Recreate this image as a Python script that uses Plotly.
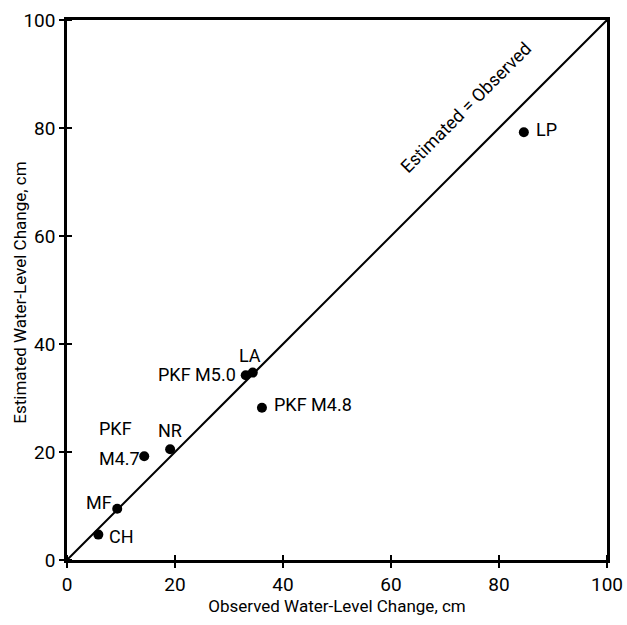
import plotly.graph_objects as go

names = ["CH", "MF", "PKF M4.7", "NR", "PKF M5.0", "LA", "PKF M4.8", "LP"]
observed = [5.8, 9.3, 14.3, 19.1, 33.1, 34.4, 36.1, 84.6]
estimated = [4.7, 9.5, 19.2, 20.5, 34.2, 34.7, 28.2, 79.2]
label_lines = [["CH"], ["MF"], ["PKF", "M4.7"], ["NR"], ["PKF M5.0"], ["LA"], ["PKF M4.8"], ["LP"]]
line_x = [0, 100]
line_y = [0, 100]
ticks = [0, 20, 40, 60, 80, 100]
x_title = "Observed Water-Level Change, cm"
y_title = "Estimated Water-Level Change, cm"

FONT = "Roboto, Liberation Sans, sans-serif"

# label placement (pixel offsets from marker): xanchor, xshift, yshift of first line
label_style = {
    "CH": ("left", 9, -2),
    "MF": ("right", -3, 6),
    "PKF M4.7": ("left", -47, 28),
    "NR": ("center", 0, 19),
    "PKF M5.0": ("right", -8, 1),
    "LA": ("center", -3, 17),
    "PKF M4.8": ("left", 10, 3),
    "LP": ("left", 10, 3),
}
LINE_GAP = 30

fig = go.Figure()
fig.add_trace(go.Scatter(x=line_x, y=line_y, mode="lines",
                         line=dict(color="black", width=2), hoverinfo="skip"))
fig.add_trace(go.Scatter(x=observed, y=estimated, mode="markers",
                         marker=dict(color="black", size=10), text=names))

for name, xv, yv, lines in zip(names, observed, estimated, label_lines):
    xa, xs, ys = label_style[name]
    for i, ln in enumerate(lines):
        fig.add_annotation(x=xv, y=yv, text=ln, showarrow=False,
                           xanchor=xa, yanchor="middle", xshift=xs, yshift=ys - i * LINE_GAP,
                           font=dict(family=FONT, size=18, color="black"))

fig.add_annotation(x=73.8, y=83.8, text="Estimated = Observed", textangle=-45,
                   showarrow=False, font=dict(family=FONT, size=18, color="black"))

# y-axis title placed as a rotated annotation so it sits where the reference has it
fig.add_annotation(xref="paper", yref="paper", x=-0.087, y=0.495, text=y_title,
                   textangle=-90, showarrow=False, xanchor="center", yanchor="middle",
                   font=dict(family=FONT, size=17, color="black"))

axis_common = dict(range=[0, 100], tickvals=ticks, ticks="outside", ticklen=5,
                   tickwidth=2, tickcolor="black", showline=True, linecolor="black",
                   linewidth=2.5, mirror=True, showgrid=False, zeroline=False,
                   automargin=False,
                   tickfont=dict(family=FONT, size=19, color="black"),
                   minor=dict(ticks="inside", tickvals=ticks, ticklen=5, tickwidth=2, tickcolor="black"))

fig.update_layout(
    width=627, height=625,
    margin=dict(l=67, r=20, t=20, b=65),
    plot_bgcolor="white", paper_bgcolor="white",
    showlegend=False,
    xaxis=dict(**axis_common,
               title=dict(text=x_title, standoff=3,
                          font=dict(family=FONT, size=17, color="black"))),
    yaxis=dict(**axis_common),
)

fig.write_html("out.html", config={"displayModeBar": False},
               post_script="document.body.style.margin='0';")
